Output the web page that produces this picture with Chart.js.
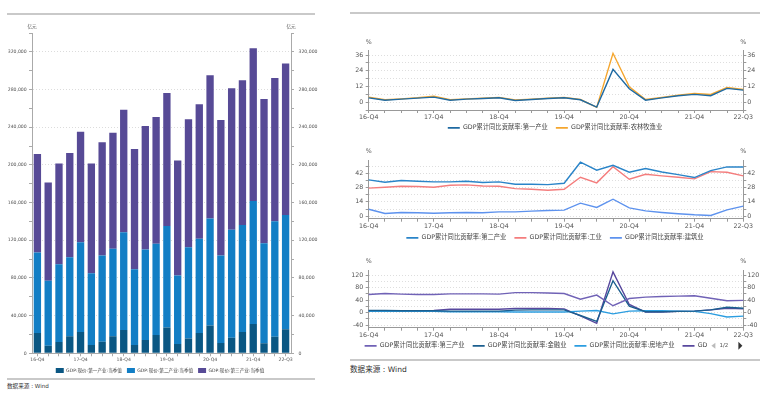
<!DOCTYPE html>
<html>
<head>
<meta charset="utf-8">
<script src="https://cdn.jsdelivr.net/npm/chart.js@4.4.1/dist/chart.umd.min.js"></script>
<style>
  html, body { margin: 0; padding: 0; background: #fff; }
  body { width: 770px; height: 393px; position: relative; overflow: hidden;
         font-family: 'DejaVu Sans', 'Noto Sans CJK SC', sans-serif; }
  canvas, .rule, .source { position: absolute; }
  .rule { background: #c9c9c9; height: 2px; }
  .source { color: #333; white-space: nowrap; line-height: 1; }
</style>
</head>
<body>
<div class="rule" style="left:7px;top:13px;width:308px"></div>
<div class="rule" style="left:7px;top:378px;width:308px"></div>
<div class="source" style="left:7px;top:384px;font-size:5.6px">数据来源 : Wind</div>
<div class="rule" style="left:350px;top:12px;width:410px"></div>
<div class="rule" style="left:350px;top:359px;width:410px"></div>
<div class="source" style="left:350px;top:366px;font-size:7.6px">数据来源 : Wind</div>

<canvas id="gdpBars" width="320" height="363" style="left:0;top:20px"></canvas>
<canvas id="primaryChart" width="430" height="111" style="left:340px;top:30px"></canvas>
<canvas id="secondaryChart" width="430" height="111" style="left:340px;top:140px"></canvas>
<canvas id="tertiaryChart" width="430" height="109" style="left:340px;top:250px"></canvas>

<script>
Chart.defaults.font.family = "'DejaVu Sans', 'Noto Sans CJK SC', sans-serif";
Chart.defaults.animation = false;
Chart.defaults.color = '#555';

var quarters = ['16-Q4',
  '17-Q1', '17-Q2', '17-Q3', '17-Q4',
  '18-Q1', '18-Q2', '18-Q3', '18-Q4',
  '19-Q1', '19-Q2', '19-Q3', '19-Q4',
  '20-Q1', '20-Q2', '20-Q3', '20-Q4',
  '21-Q1', '21-Q2', '21-Q3', '21-Q4',
  '22-Q1', '22-Q2', '22-Q3'];
var shownQuarters = ['16-Q4', '17-Q4', '18-Q4', '19-Q4', '20-Q4', '21-Q4', '22-Q3'];

// GDP 现价 当季值, 亿元
var primaryValue = [21600, 8100, 12000, 18000, 22700, 8800, 12300, 18000, 24800, 8800, 14100, 19400,
  27300, 9900, 15600, 21600, 29400, 11000, 16600, 22700, 31200, 10600, 17700, 25500];
var secondaryValue = [85300, 68800, 82600, 84000, 95300, 76200, 91500, 92900, 103800, 80500, 96100, 96800,
  107700, 72600, 97100, 99900, 113700, 92800, 114500, 113400, 130400, 106300, 122600, 121200];
var tertiaryValue = [104600, 104400, 107000, 110600, 117300, 116600, 120100, 123300, 130000, 127600, 131100, 134700,
  141400, 122200, 135700, 142800, 152000, 143900, 150200, 153700, 162200, 153100, 152000, 160800];

// GDP累计同比贡献率, %
var primaryShare = [3.3, 1.5, 2.3, 3.1, 3.8, 1.5, 2.3, 2.8, 3.3, 1.3, 2.0, 2.8,
  3.3, 1.8, -3.8, 25.0, 10.2, 1.5, 3.3, 4.9, 5.9, 4.9, 10.5, 9.2];
var farmShare = [3.8, 1.8, 2.5, 3.4, 4.6, 1.8, 2.5, 3.0, 3.6, 1.6, 2.3, 3.0,
  3.6, 2.0, -4.0, 37.3, 11.7, 2.0, 3.6, 5.3, 6.6, 5.9, 11.2, 9.7];

var secondaryShare = [35.5, 33.2, 34.9, 34.2, 33.6, 33.6, 34.2, 32.9, 33.6, 31.3, 31.3, 30.9,
  32.2, 52.8, 45.0, 49.8, 43.0, 46.6, 43.3, 40.7, 37.8, 44.6, 48.2, 48.2];
var industryShare = [27.4, 28.3, 29.3, 29.0, 28.3, 30.3, 30.6, 29.6, 29.3, 27.0, 26.4, 25.4,
  26.4, 38.1, 32.6, 48.5, 36.2, 41.0, 39.4, 38.1, 36.5, 43.6, 43.0, 39.4];
var buildShare = [6.8, 2.6, 3.6, 3.3, 2.9, 3.3, 3.6, 3.3, 4.2, 4.2, 4.9, 5.5,
  5.9, 12.7, 8.5, 16.6, 8.1, 5.2, 3.6, 2.3, 1.3, 0.7, 6.2, 9.8];

var tertiaryShare = [58, 61, 59, 58, 58, 60, 60, 60, 59, 64, 64, 62.5,
  61, 43, 56, 22, 45, 49.5, 51.6, 52.6, 53.7, 46, 38, 39];
var financeShare = [7, 7, 6, 6, 6, 5, 5, 5, 5, 8, 9, 9,
  9, -9, -28, 102, 21, 3, 3, 4, 5, 9, 17, 14];
var estateShare = [4, 4, 4, 4, 4, 3, 3, 3, 3, 2, 2, 2,
  2, 5, 7, -4, 5, 6, 6, 5, 4, -3, -14, -11];
var infoShare = [6, 6, 6, 6, 7, 11, 11, 11, 11, 13, 13, 13,
  12, -10, -34, 130, 26, 2, 2, 4, 5, 9, 14, 12];

function isStep(v, step) {
  return Math.abs(v / step - Math.round(v / step)) < 1e-6;
}

// ticks on every multiple of step inside [min, max]
function stepTicks(min, max, step) {
  var out = [];
  for (var v = Math.ceil(min / step) * step; v <= max + 1e-9; v += step) {
    out.push({ value: Math.round(v * 1000) / 1000 });
  }
  return out;
}

// unit text above both y axes
var unitLabels = {
  id: 'unitLabels',
  afterDraw: function (chart, args, opts) {
    var ctx = chart.ctx, a = chart.chartArea;
    ctx.save();
    ctx.font = opts.size + 'px ' + Chart.defaults.font.family;
    ctx.fillStyle = '#555';
    ctx.textAlign = 'center';
    ctx.textBaseline = 'middle';
    ctx.fillText(opts.text, a.left, a.top - opts.dy);
    ctx.fillText(opts.text, a.right, a.top - opts.dy);
    ctx.restore();
  }
};

// move the legend sideways and draw the page switcher after it
var legendPager = {
  id: 'legendPager',
  afterLayout: function (chart, args, opts) {
    if (!opts.shift) return;
    chart.legend.left -= opts.shift;
    chart.legend.right -= opts.shift;
  },
  afterDraw: function (chart, args, opts) {
    if (!opts.text) return;
    var boxes = chart.legend.legendHitBoxes;
    var hb = boxes[boxes.length - 1];
    var x = hb.left + hb.width + 4;
    var y = hb.top + hb.height / 2;
    var ctx = chart.ctx;
    ctx.save();
    ctx.fillStyle = '#bbb';
    ctx.beginPath();
    ctx.moveTo(x, y); ctx.lineTo(x + 4, y - 3); ctx.lineTo(x + 4, y + 3); ctx.closePath(); ctx.fill();
    ctx.fillStyle = '#555';
    ctx.font = '5.5px ' + Chart.defaults.font.family;
    ctx.textBaseline = 'middle';
    ctx.fillText(opts.text, x + 8, y);
    ctx.fillStyle = '#333';
    ctx.beginPath();
    ctx.moveTo(x + 27, y - 4); ctx.lineTo(x + 31, y); ctx.lineTo(x + 27, y + 4); ctx.closePath(); ctx.fill();
    ctx.restore();
  }
};

function quarterTick(value) {
  var l = quarters[value];
  return shownQuarters.indexOf(l) >= 0 ? l : '';
}

// ---- left: stacked quarterly GDP bars ----
function moneyAxis(side, width, pad) {
  return {
    position: side,
    stacked: side === 'left',
    min: 0, max: 340000,
    afterBuildTicks: function (axis) { axis.ticks = stepTicks(0, 340000, 20000); },
    afterFit: function (axis) { axis.width = width; },
    ticks: {
      autoSkip: false, padding: pad, font: { size: 4.6 },
      callback: function (v) { return isStep(v, 40000) ? v.toLocaleString('en-US') : ''; }
    },
    grid: {
      drawOnChartArea: side === 'left',
      color: function (c) { return c.tick && c.tick.value > 0 && isStep(c.tick.value, 40000) ? '#dcdcdc' : 'rgba(0,0,0,0)'; },
      tickColor: '#aaa', tickLength: 3, tickBorderDash: []
    },
    border: { color: '#aaa', dash: [1, 2] }
  };
}

new Chart(document.getElementById('gdpBars'), {
  type: 'bar',
  data: {
    labels: quarters,
    datasets: [
      { label: 'GDP:现价:第一产业:当季值', data: primaryValue, backgroundColor: '#0b5783' },
      { label: 'GDP:现价:第二产业:当季值', data: secondaryValue, backgroundColor: '#127ec5' },
      { label: 'GDP:现价:第三产业:当季值', data: tertiaryValue, backgroundColor: '#574a96' }
    ]
  },
  plugins: [unitLabels],
  options: {
    responsive: false,
    layout: { padding: { top: 13 } },
    datasets: { bar: { categoryPercentage: 1, barPercentage: 0.68 } },
    scales: {
      x: {
        stacked: true,
        afterFit: function (axis) { axis.height = 9.7; },
        ticks: { autoSkip: false, maxRotation: 0, padding: 1, font: { size: 4.6 }, callback: quarterTick },
        grid: { offset: false, drawOnChartArea: false, tickLength: 3, color: '#aaa' },
        border: { color: '#aaa' }
      },
      y: moneyAxis('left', 32, 2.3),
      y2: moneyAxis('right', 29, 4.5)
    },
    plugins: {
      legend: {
        position: 'bottom',
        labels: { boxWidth: 8, boxHeight: 5, padding: 5, color: '#444', font: { size: 4.6 } }
      },
      tooltip: { enabled: false },
      unitLabels: { text: '亿元', size: 4.6, dy: 6.3 }
    }
  }
});

// ---- right: three line panels ----
function pctAxis(side, r) {
  return {
    position: side,
    min: r.min, max: r.max,
    afterBuildTicks: function (axis) { axis.ticks = stepTicks(r.min, r.max, r.minor); },
    afterFit: function (axis) { axis.width = side === 'left' ? 28.7 : 26.7; },
    ticks: {
      autoSkip: false, padding: side === 'left' ? 2.4 : 1, font: { size: 6.3 },
      callback: function (v) { return isStep(v, r.major) ? v : ''; }
    },
    grid: {
      drawOnChartArea: side === 'left',
      color: '#dedede', tickColor: '#999', tickLength: 3, tickBorderDash: []
    },
    border: { color: '#999', dash: [1, 2] }
  };
}

function lineChart(id, sets, r, geo, legendOpts) {
  return new Chart(document.getElementById(id), {
    type: 'line',
    data: {
      labels: quarters,
      datasets: sets.map(function (s) {
        return { label: s.label, data: s.data, borderColor: s.color, backgroundColor: s.color,
                 borderWidth: 1.4, pointRadius: 0, tension: 0, fill: false };
      })
    },
    plugins: [unitLabels, legendPager],
    options: {
      responsive: false,
      layout: { padding: { top: geo.top } },
      scales: {
        x: {
          afterFit: function (axis) { axis.height = geo.xh; },
          ticks: { autoSkip: false, maxRotation: 0, padding: 1, font: { size: 6.3 }, callback: quarterTick },
          grid: { drawOnChartArea: false, tickLength: 3, color: '#999' },
          border: { color: '#999' }
        },
        y: pctAxis('left', r),
        y2: pctAxis('right', r)
      },
      plugins: {
        legend: {
          position: 'bottom',
          labels: {
            usePointStyle: true, pointStyle: 'line', pointStyleWidth: 12, boxHeight: 6,
            padding: 2, color: '#444', font: { size: 6.3 },
            generateLabels: function (chart) {
              var items = Chart.defaults.plugins.legend.labels.generateLabels(chart);
              items.forEach(function (it, i) {
                if (sets[i].short) it.text = sets[i].short;
                if (i < items.length - 1) it.text += '   ';
                it.lineWidth = 1.6;
              });
              return items;
            }
          }
        },
        tooltip: { enabled: false },
        unitLabels: { text: '%', size: 6.3, dy: 8.5 },
        legendPager: legendOpts || {}
      }
    }
  });
}

lineChart('primaryChart', [
  { label: 'GDP累计同比贡献率:第一产业', data: primaryShare, color: '#1f6aa2' },
  { label: 'GDP累计同比贡献率:农林牧渔业', data: farmShare, color: '#f5a62e' }
], { min: -6, max: 39.3, minor: 6, major: 12 }, { top: 20.7, xh: 12.7 });

lineChart('secondaryChart', [
  { label: 'GDP累计同比贡献率:第二产业', data: secondaryShare, color: '#2a84c8' },
  { label: 'GDP累计同比贡献率:工业', data: industryShare, color: '#f47d7d' },
  { label: 'GDP累计同比贡献率:建筑业', data: buildShare, color: '#5d92ee' }
], { min: -2.5, max: 55, minor: 7, major: 14 }, { top: 20, xh: 14 });

lineChart('tertiaryChart', [
  { label: 'GDP累计同比贡献率:第三产业', data: tertiaryShare, color: '#7062b6' },
  { label: 'GDP累计同比贡献率:金融业', data: financeShare, color: '#1c5f8f' },
  { label: 'GDP累计同比贡献率:房地产业', data: estateShare, color: '#2b9de0' },
  { label: 'GDP累计同比贡献率:信息传输、软件和信息技术服务业', short: 'GD', data: infoShare, color: '#58489e' }
], { min: -48, max: 136, minor: 20, major: 40 }, { top: 20, xh: 13 }, { shift: 19, text: '1/2' });
</script>
</body>
</html>
